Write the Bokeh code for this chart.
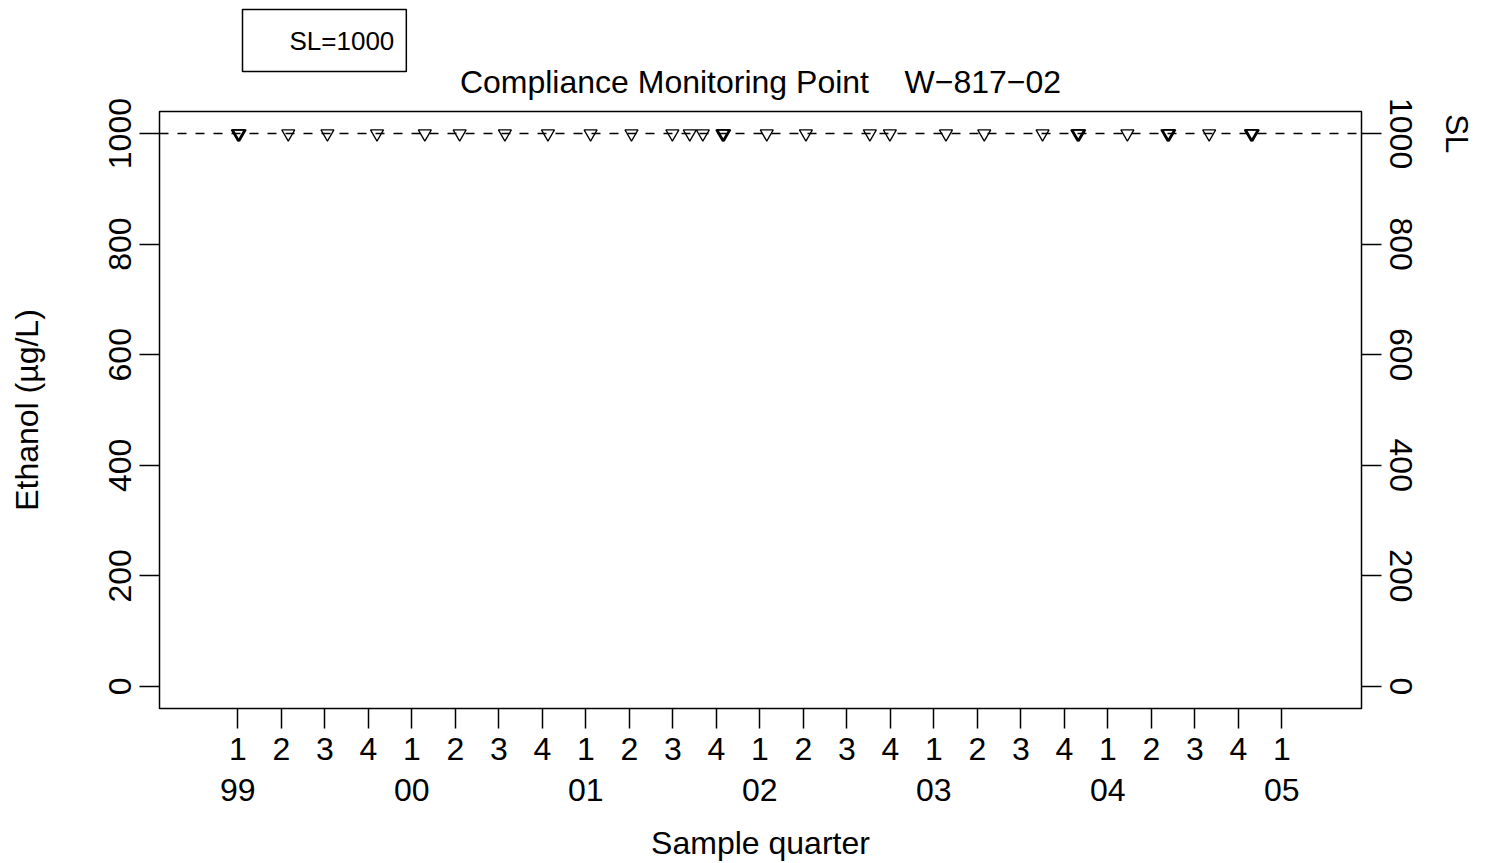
from bokeh.plotting import figure
from bokeh.models import LinearAxis, FixedTicker, Span, Range1d, Title
from bokeh.embed import file_html
from bokeh.resources import INLINE

# ---- data ----
sample_time = [1999.000, 1999.005, 1999.010, 1999.29, 1999.515, 1999.80,
               2000.075, 2000.275, 2000.535, 2000.7825, 2001.0275, 2001.2625,
               2001.4975, 2001.5975, 2001.6725, 2001.785, 2001.79, 2001.795,
               2002.04, 2002.265, 2002.6325, 2002.7475, 2003.07, 2003.29,
               2003.625, 2003.825, 2003.83, 2003.835, 2004.1125, 2004.3425,
               2004.3475, 2004.3525, 2004.5825, 2004.8225, 2004.8275, 2004.8325]
ethanol = [1000, 1000, 1000, 1000, 1000, 1000, 1000, 1000, 1000, 1000, 1000, 1000,
           1000, 1000, 1000, 1000, 1000, 1000, 1000, 1000, 1000, 1000, 1000, 1000,
           1000, 1000, 1000, 1000, 1000, 1000, 1000, 1000, 1000, 1000, 1000, 1000]
SL = 1000
years = [1999, 2000, 2001, 2002, 2003, 2004, 2005]
year_labels = ["99", "00", "01", "02", "03", "04", "05"]
quarter_labels = ["1", "2", "3", "4"]
y_ticks = [0, 200, 400, 600, 800, 1000]

FONT = "Liberation Sans"
FS = "32px"
NBSP = "\u00a0"

quarter_ticks, quarter_over = [], {}
for yr in years:
    for qi, ql in enumerate(quarter_labels):
        t = yr + qi / 4
        if t <= years[-1]:
            quarter_ticks.append(t)
            quarter_over[t] = ql
year_over = {float(y): l for y, l in zip(years, year_labels)}

p = figure(width=1485, height=863, x_range=Range1d(1998.55, 2005.458),
           y_range=Range1d(-40, 1040), output_backend="svg", toolbar_location=None,
           x_axis_type=None, y_axis_type=None, title=None,
           min_border_left=159, min_border_right=124, min_border_top=111,
           min_border_bottom=155)
p.outline_line_color = "black"
p.outline_line_width = 1.5
p.background_fill_color = "white"
p.border_fill_color = "white"

main_title = Title(text="Compliance Monitoring Point" + NBSP * 4 + "W\u2212817\u221202",
                   align="center", text_font=FONT, text_font_size=FS,
                   text_font_style="normal", text_color="black", standoff=23)
p.add_layout(main_title, "above")

sl_box = Title(text="SL=1000", align="left", offset=83, text_font=FONT,
               text_font_size="26px", text_font_style="normal", text_color="black",
               standoff=-42, border_line_color="black", border_line_width=1.5,
               background_fill_color="white",
               padding=dict(left=47, right=12, top=16, bottom=16))
p.add_layout(sl_box, "above")


def style_axis(ax, tick_out=20, standoff=4):
    ax.major_tick_in = 0
    ax.major_tick_out = tick_out
    ax.major_tick_line_color = "black"
    ax.major_tick_line_width = 1.5
    ax.minor_tick_line_color = None
    ax.axis_line_color = None
    ax.major_label_text_font = FONT
    ax.major_label_text_font_size = FS
    ax.major_label_text_color = "black"
    ax.major_label_standoff = standoff
    ax.axis_label_text_font = FONT
    ax.axis_label_text_font_size = FS
    ax.axis_label_text_font_style = "normal"
    ax.axis_label_text_color = "black"


left = LinearAxis(ticker=FixedTicker(ticks=y_ticks), axis_label="Ethanol (\u00b5g/L)",
                  major_label_orientation="vertical")
style_axis(left, standoff=8)
left.axis_label_standoff = 62
p.add_layout(left, "left")

right = LinearAxis(ticker=FixedTicker(ticks=y_ticks), major_label_orientation="vertical")
style_axis(right, standoff=8)
p.add_layout(right, "right")

right2 = LinearAxis(ticker=FixedTicker(ticks=[SL]), major_label_overrides={SL: "SL"},
                    major_label_orientation="vertical")
style_axis(right2, tick_out=0, standoff=24)
right2.major_tick_line_color = None
p.add_layout(right2, "right")

bq = LinearAxis(ticker=FixedTicker(ticks=quarter_ticks), major_label_overrides=quarter_over)
style_axis(bq, standoff=9)
p.add_layout(bq, "below")

by = LinearAxis(ticker=FixedTicker(ticks=[float(y) for y in years]),
                major_label_overrides=year_over, axis_label="Sample quarter")
style_axis(by, tick_out=0, standoff=16)
by.major_tick_line_color = None
by.axis_label_standoff = 21
p.add_layout(by, "below")

p.add_layout(Span(location=SL, dimension="width", line_color="black",
                  line_width=1.5, line_dash="9 9"))

p.scatter(sample_time, ethanol, marker="inverted_triangle", size=13,
          fill_color=None, line_color="black", line_width=1.3)

open("out.html", "w").write(file_html(p, INLINE))
